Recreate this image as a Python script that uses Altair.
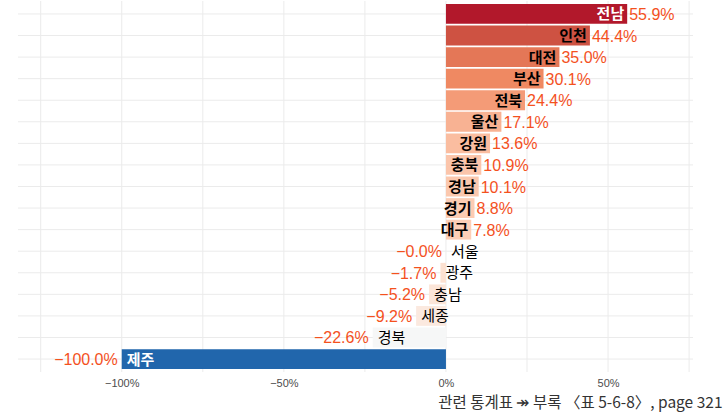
import altair as alt
import pandas as pd

regions = ["전남", "인천", "대전", "부산", "전북", "울산", "강원", "충북", "경남",
           "경기", "대구", "서울", "광주", "충남", "세종", "경북", "제주"]
values = [55.9, 44.4, 35.0, 30.1, 24.4, 17.1, 13.6, 10.9, 10.1,
          8.8, 7.8, -0.0, -1.7, -5.2, -9.2, -22.6, -100.0]
tick_values = [-100, -50, 0, 50]
grid_values = [-125, -100, -75, -50, -25, 0, 25, 50, 75]
caption = "관련 통계표 ↠ 부록 〈표 5-6-8〉, page 321"
palette = ["#2166ac", "#67a9cf", "#d1e5f0", "#f7f7f7", "#fddbc7", "#ef8a62", "#b2182b"]

labels = [f"{v:.1f}%".replace("-", "\u2212") for v in values]
df = pd.DataFrame({"region": regions, "value": values, "label": labels})
grid_df = pd.DataFrame({"g": grid_values})

vmin, vmax = min(values), max(values)
cdomain = [vmin + (vmax - vmin) * k / 6 for k in range(7)]

KFONT = "Noto Sans CJK KR"
NFONT = "Liberation Sans"
LABEL_COLOR = "#f4511e"

xaxis = alt.Axis(values=tick_values, labelExpr="datum.label + '%'",
                 title=None, grid=False, domain=False, ticks=False,
                 labelFont=NFONT, labelFontSize=11, labelColor="#4d4d4d",
                 labelPadding=5)
xscale = alt.Scale(domain=[-132, 76.2], nice=False, zero=False)
yscale = alt.Scale(paddingInner=0.08, paddingOuter=0.14)

y_enc = alt.Y("region:N", sort=regions, scale=yscale, axis=None)

vgrid = alt.Chart(grid_df).mark_rule(color="#ebebeb", strokeWidth=1).encode(
    x=alt.X("g:Q", scale=xscale, axis=xaxis)
)
hgrid = alt.Chart(df).mark_rule(color="#ebebeb", strokeWidth=1).encode(y=y_enc)

bars = alt.Chart(df).mark_bar().encode(
    x=alt.X("value:Q", scale=xscale, axis=xaxis),
    y=y_enc,
    color=alt.Color("value:Q", scale=alt.Scale(domain=cdomain, range=palette,
                                                interpolate="lab"), legend=None),
)

base = alt.Chart(df).encode(x=alt.X("value:Q", scale=xscale, axis=xaxis), y=y_enc)

name_pos = base.transform_filter("datum.value > 0").mark_text(
    align="right", baseline="middle", dx=-3, dy=0.5, font=KFONT, fontSize=15, fontWeight="bold"
).encode(
    text="region:N",
    color=alt.condition("datum.value > 50", alt.value("white"), alt.value("black")),
)
name_neg_big = base.transform_filter("datum.value < -50").mark_text(
    align="left", baseline="middle", dx=5, dy=0.5, font=KFONT, fontSize=15, fontWeight="bold",
    color="white"
).encode(text="region:N")
name_neg_small = base.transform_filter("datum.value <= 0 && datum.value >= -50").mark_text(
    align="left", baseline="middle", dx=5, dy=0.5, font=KFONT, fontSize=15, fontWeight="normal",
    color="black"
).encode(text="region:N")

val_pos = base.transform_filter("datum.value > 0").mark_text(
    align="left", baseline="middle", dx=2, dy=1, font=NFONT, fontSize=16, color=LABEL_COLOR
).encode(text="label:N")
val_neg = base.transform_filter("datum.value <= 0").mark_text(
    align="right", baseline="middle", dx=-4, dy=1, font=NFONT, fontSize=16, color=LABEL_COLOR
).encode(text="label:N")

chart = alt.layer(
    vgrid, hgrid, bars, name_pos, name_neg_big, name_neg_small, val_pos, val_neg
).properties(
    width=675, height=371,
    title=alt.TitleParams(caption, orient="bottom", anchor="end", dx=29, offset=8,
                          font=KFONT, fontSize=15.5, fontWeight="normal", color="#333333"),
    autosize=alt.AutoSizeParams(type="none"),
    padding={"left": 18, "top": 1, "right": 34, "bottom": 43},
    background="white",
).configure_view(stroke=None)

chart.save("out.html", embed_options={"renderer": "svg", "actions": False})
